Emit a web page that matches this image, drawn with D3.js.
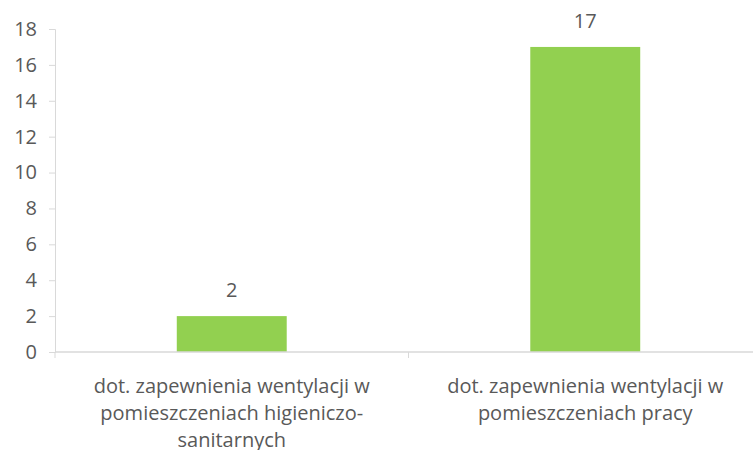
<!DOCTYPE html>
<html>
<head>
<meta charset="utf-8">
<script src="https://cdn.jsdelivr.net/npm/d3@7"></script>
<style>
  body { margin: 0; background: #fff; }
  text { font-family: "Open Sans", sans-serif; fill: #595959; }
</style>
</head>
<body>
<svg class="chart"></svg>
<script>
var categories = [
  ["dot. zapewnienia wentylacji w", "pomieszczeniach higieniczo-", "sanitarnych"],
  ["dot. zapewnienia wentylacji w", "pomieszczeniach pracy"]
];
var values = [2, 17];
var yTicks = [0, 2, 4, 6, 8, 10, 12, 14, 16, 18];

var margin = {top: 29, right: -9, bottom: 98, left: 55};
var width = 753 - margin.left - margin.right;
var height = 450 - margin.top - margin.bottom;

var x = d3.scaleBand().domain(d3.range(values.length)).range([0, width]).padding(0);
var y = d3.scaleLinear().domain([0, 18]).range([height, 0]);
var barW = x.bandwidth() * 0.311;

var svg = d3.select(".chart")
  .attr("width", 753)
  .attr("height", 450);

var chart = svg.append("g")
  .attr("transform", "translate(" + margin.left + "," + margin.top + ")");

// y axis
var yAxis = d3.axisLeft(y).tickValues(yTicks).tickSize(6).tickPadding(12);
var ya = chart.append("g").call(yAxis);
ya.select(".domain").attr("stroke", "#d9d9d9");
ya.selectAll(".tick line").attr("stroke", "#d9d9d9");
ya.selectAll(".tick text").style("font-size", "20px").attr("fill", "#595959");

// bars
chart.selectAll(".bar")
  .data(values)
  .enter().append("rect")
  .attr("class", "bar")
  .attr("x", function(d, i) { return x(i) + (x.bandwidth() - barW) / 2; })
  .attr("y", function(d) { return y(d); })
  .attr("width", barW)
  .attr("height", function(d) { return height - y(d); })
  .attr("fill", "#92d050");

// value labels
chart.selectAll(".val")
  .data(values)
  .enter().append("text")
  .attr("x", function(d, i) { return x(i) + x.bandwidth() / 2; })
  .attr("y", function(d) { return y(d) - 19; })
  .attr("text-anchor", "middle")
  .style("font-size", "20px")
  .text(function(d) { return d; });

// x axis line with category separators
chart.append("line")
  .attr("x1", 0).attr("x2", width)
  .attr("y1", height).attr("y2", height)
  .attr("stroke", "#d9d9d9").attr("stroke-width", 1.5);
chart.selectAll(".sep")
  .data(d3.range(values.length + 1))
  .enter().append("line")
  .attr("x1", function(i) { return i * x.bandwidth(); })
  .attr("x2", function(i) { return i * x.bandwidth(); })
  .attr("y1", height).attr("y2", height + 6)
  .attr("stroke", "#d9d9d9");

// category labels
var labels = chart.selectAll(".cat")
  .data(categories)
  .enter().append("text")
  .attr("text-anchor", "middle")
  .style("font-size", "20px")
  .attr("transform", function(d, i) {
    return "translate(" + (x(i) + x.bandwidth() / 2) + "," + (height + 41) + ")";
  });
labels.selectAll("tspan")
  .data(function(d) { return d; })
  .enter().append("tspan")
  .attr("x", 0)
  .attr("dy", function(d, i) { return i === 0 ? 0 : 27; })
  .text(function(d) { return d; });
</script>
</body>
</html>
